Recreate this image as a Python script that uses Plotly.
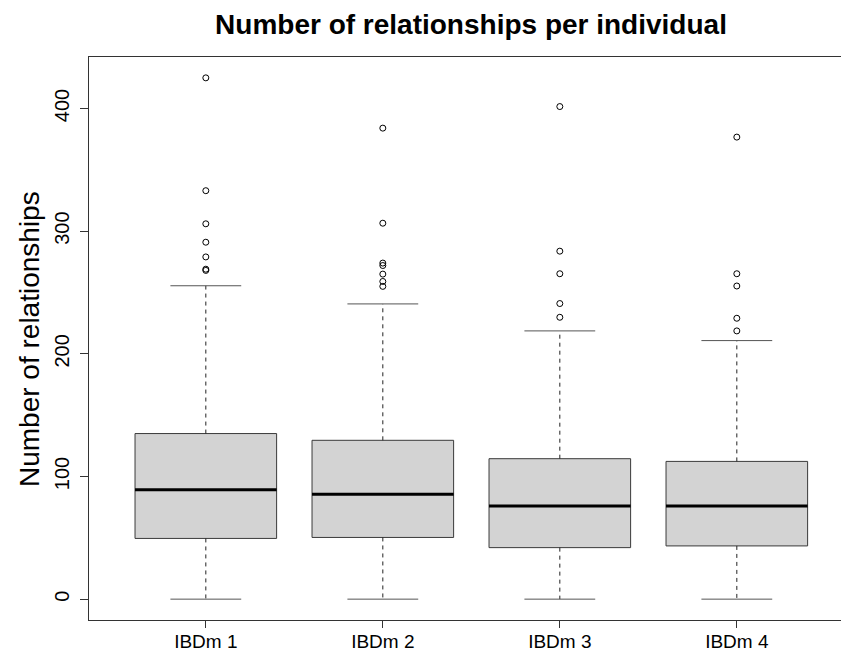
import plotly.graph_objects as go

# ---- data ----
categories = ["IBDm 1", "IBDm 2", "IBDm 3", "IBDm 4"]
positions = [1, 2, 3, 4]
lower_whisker = [0, 0, 0, 0]
q1 = [49.5, 50.3, 42.0, 43.4]
median = [89.2, 85.5, 76.0, 76.0]
q3 = [135.0, 129.5, 114.5, 112.3]
upper_whisker = [255.5, 240.7, 218.7, 210.8]
outliers = [
    [425, 333, 306, 291, 279, 269, 268],
    [384, 306.5, 274, 272, 265, 259, 255],
    [401.6, 283.7, 265.3, 241, 229.8],
    [376.7, 265.3, 255.3, 229, 218.7],
]
y_ticks = [0, 100, 200, 300, 400]

box_width = 0.8
cap_half = box_width / 4
line_col = "#3a3a3a"

fig = go.Figure()

for i, pos in enumerate(positions):
    # box body (no whiskers; whiskers drawn dashed below)
    fig.add_trace(go.Box(
        x=[pos], q1=[q1[i]], median=[median[i]], q3=[q3[i]],
        lowerfence=[q1[i]], upperfence=[q3[i]],
        width=box_width, whiskerwidth=0,
        fillcolor="#D3D3D3", line=dict(color=line_col, width=1),
        boxpoints=False, showlegend=False, hoverinfo="skip",
    ))
    # dashed whiskers
    fig.add_trace(go.Scatter(
        x=[pos, pos, None, pos, pos],
        y=[q3[i], upper_whisker[i], None, q1[i], lower_whisker[i]],
        mode="lines", line=dict(color="#222222", width=1, dash="4px,4px"),
        showlegend=False, hoverinfo="skip",
    ))
    # staples
    fig.add_trace(go.Scatter(
        x=[pos - cap_half, pos + cap_half, None, pos - cap_half, pos + cap_half],
        y=[upper_whisker[i], upper_whisker[i], None, lower_whisker[i], lower_whisker[i]],
        mode="lines", line=dict(color="#555555", width=1),
        showlegend=False, hoverinfo="skip",
    ))
    # thick median
    fig.add_trace(go.Scatter(
        x=[pos - box_width / 2, pos + box_width / 2],
        y=[median[i], median[i]],
        mode="lines", line=dict(color="black", width=3),
        showlegend=False, hoverinfo="skip",
    ))
    # outliers
    fig.add_trace(go.Scatter(
        x=[pos] * len(outliers[i]), y=outliers[i],
        mode="markers",
        marker=dict(symbol="circle-open", size=6, color="black", line=dict(width=1)),
        showlegend=False, hoverinfo="skip",
    ))

W, H = 841, 654
ml, mt, mb, mr = 89, 57, 34, 0
px_per_unit = 177.0
x0 = 0.34
x1 = x0 + (W - ml - mr) / px_per_unit

fig.update_layout(
    width=W, height=H,
    margin=dict(l=ml, r=mr, t=mt, b=mb, pad=0),
    paper_bgcolor="white", plot_bgcolor="white",
    font=dict(family="Liberation Sans, Arial, sans-serif", color="black"),
    title=dict(
        text="<b>Number of relationships per individual</b>",
        x=471 / W, xanchor="center", xref="container",
        y=1 - 24 / H, yanchor="middle", yref="container",
        font=dict(size=28, color="black"),
    ),
    xaxis=dict(
        range=[x0, x1], tickvals=positions, ticktext=categories,
        showline=True, linecolor="#333333", linewidth=1, mirror=True,
        ticks="outside", ticklen=7, tickcolor="#333333",
        ticklabelstandoff=-3,
        showgrid=False, zeroline=False, automargin=False,
        tickfont=dict(size=19),
    ),
    yaxis=dict(
        range=[-17, 442], tickvals=y_ticks,
        showline=True, linecolor="#333333", linewidth=1,
        ticks="outside", ticklen=8, tickcolor="#333333",
        ticklabelstandoff=3,
        tickangle=-90, showgrid=False, zeroline=False, automargin=False,
        tickfont=dict(size=20),
    ),
    annotations=[dict(
        text="Number of relationships", textangle=-90,
        xref="paper", yref="paper",
        x=(29 - ml) / (W - ml - mr), y=(620 - 339) / (620 - 57),
        xanchor="center", yanchor="middle", showarrow=False,
        font=dict(size=28, color="black"),
    )],
)

fig.write_html("out.html", config={"displayModeBar": False})

# remove the browser's default page margin so the figure sits at (0, 0)
with open("out.html", "r", encoding="utf-8") as f:
    html = f.read()
html = html.replace("<body>", '<body style="margin:0;padding:0;overflow:hidden">', 1)
with open("out.html", "w", encoding="utf-8") as f:
    f.write(html)
